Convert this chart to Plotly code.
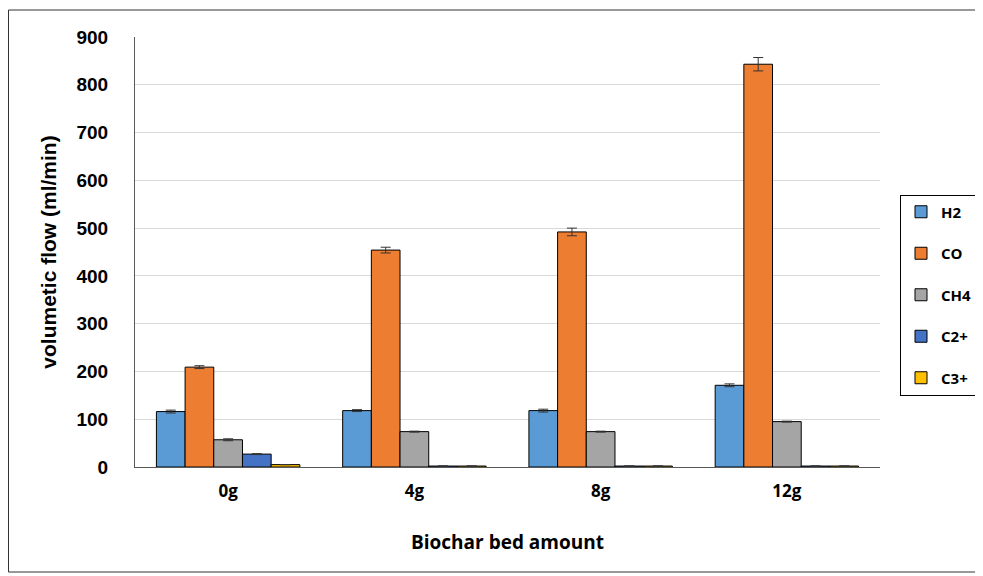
import plotly.graph_objects as go

categories = ["0g", "4g", "8g", "12g"]
series_names = ["H2", "CO", "CH4", "C2+", "C3+"]
h2 = [116, 118, 118, 171]
co = [209, 454, 492, 843]
ch4 = [57, 74, 74, 95]
c2 = [27, 2, 2, 2]
c3 = [5, 2, 2, 2]
h2_err = [3, 2, 3, 3]
co_err = [3, 6, 8, 14]
ch4_err = [2, 1, 1, 1]
c2_err = [1, 0, 0, 0]
c3_err = [0, 0, 0, 0]

colors = ["#5B9BD5", "#ED7D31", "#A5A5A5", "#4472C4", "#FFC000"]
values = [h2, co, ch4, c2, c3]
errors = [h2_err, co_err, ch4_err, c2_err, c3_err]

fig = go.Figure()
for name, vals, errs, col in zip(series_names, values, errors, colors):
    fig.add_trace(go.Bar(
        x=categories, y=vals, name=name, legendgroup=name,
        marker=dict(color=col, line=dict(color="black", width=1)),
        error_y=dict(type="data", array=errs, visible=True,
                     color="#333333", thickness=1, width=5),
    ))

# page body has an 8px margin, so shift everything by that
OFF = 8
W, H = 983 - OFF, 576 - OFF
L, R, T, B = 135 - OFF, 983 - 880, 37 - OFF, 576 - 467
pw, ph = W - L - R, H - T - B

fig.update_layout(
    width=W, height=H,
    margin=dict(l=L, r=R, t=T, b=B, autoexpand=False),
    barmode="group", bargap=0.23, bargroupgap=0,
    plot_bgcolor="white", paper_bgcolor="white",
    font=dict(family="Liberation Sans, Arial", color="black"),
    showlegend=True,
    legend=dict(x=(900 - 135) / pw, y=(467 - 295) / ph, xanchor="left", yanchor="middle",
                bordercolor="black", borderwidth=1, tracegroupgap=19,
                font=dict(family="Open Sans", size=15, color="black", weight="bold"),
                itemwidth=30),
    xaxis=dict(
        showline=True, linecolor="#595959", linewidth=1, automargin=False,
        tickfont=dict(family="Open Sans", size=17, weight="bold"),
        ticks="", ticklabelstandoff=9,
        title=dict(text="Biochar bed amount", standoff=34,
                   font=dict(family="Open Sans", size=19, weight="bold")),
    ),
    yaxis=dict(
        range=[0, 900], dtick=100, automargin=False,
        showline=True, linecolor="#595959", linewidth=1,
        showgrid=True, gridcolor="#D9D9D9", gridwidth=1,
        zeroline=False,
        tickfont=dict(size=19, weight="bold"),
        ticks="", ticklabelstandoff=22,
        title=dict(text="volumetic flow (ml/min)", standoff=14,
                   font=dict(size=21, weight="bold")),
    ),
    shapes=[dict(type="rect", xref="paper", yref="paper",
                 x0=(OFF + 0.5 - 135) / pw, x1=(976 - 135) / pw,
                 y0=(467 - 572) / ph, y1=(467 - 10) / ph,
                 line=dict(color="#333333", width=1), layer="below")],
)

fig.write_html("out.html")
